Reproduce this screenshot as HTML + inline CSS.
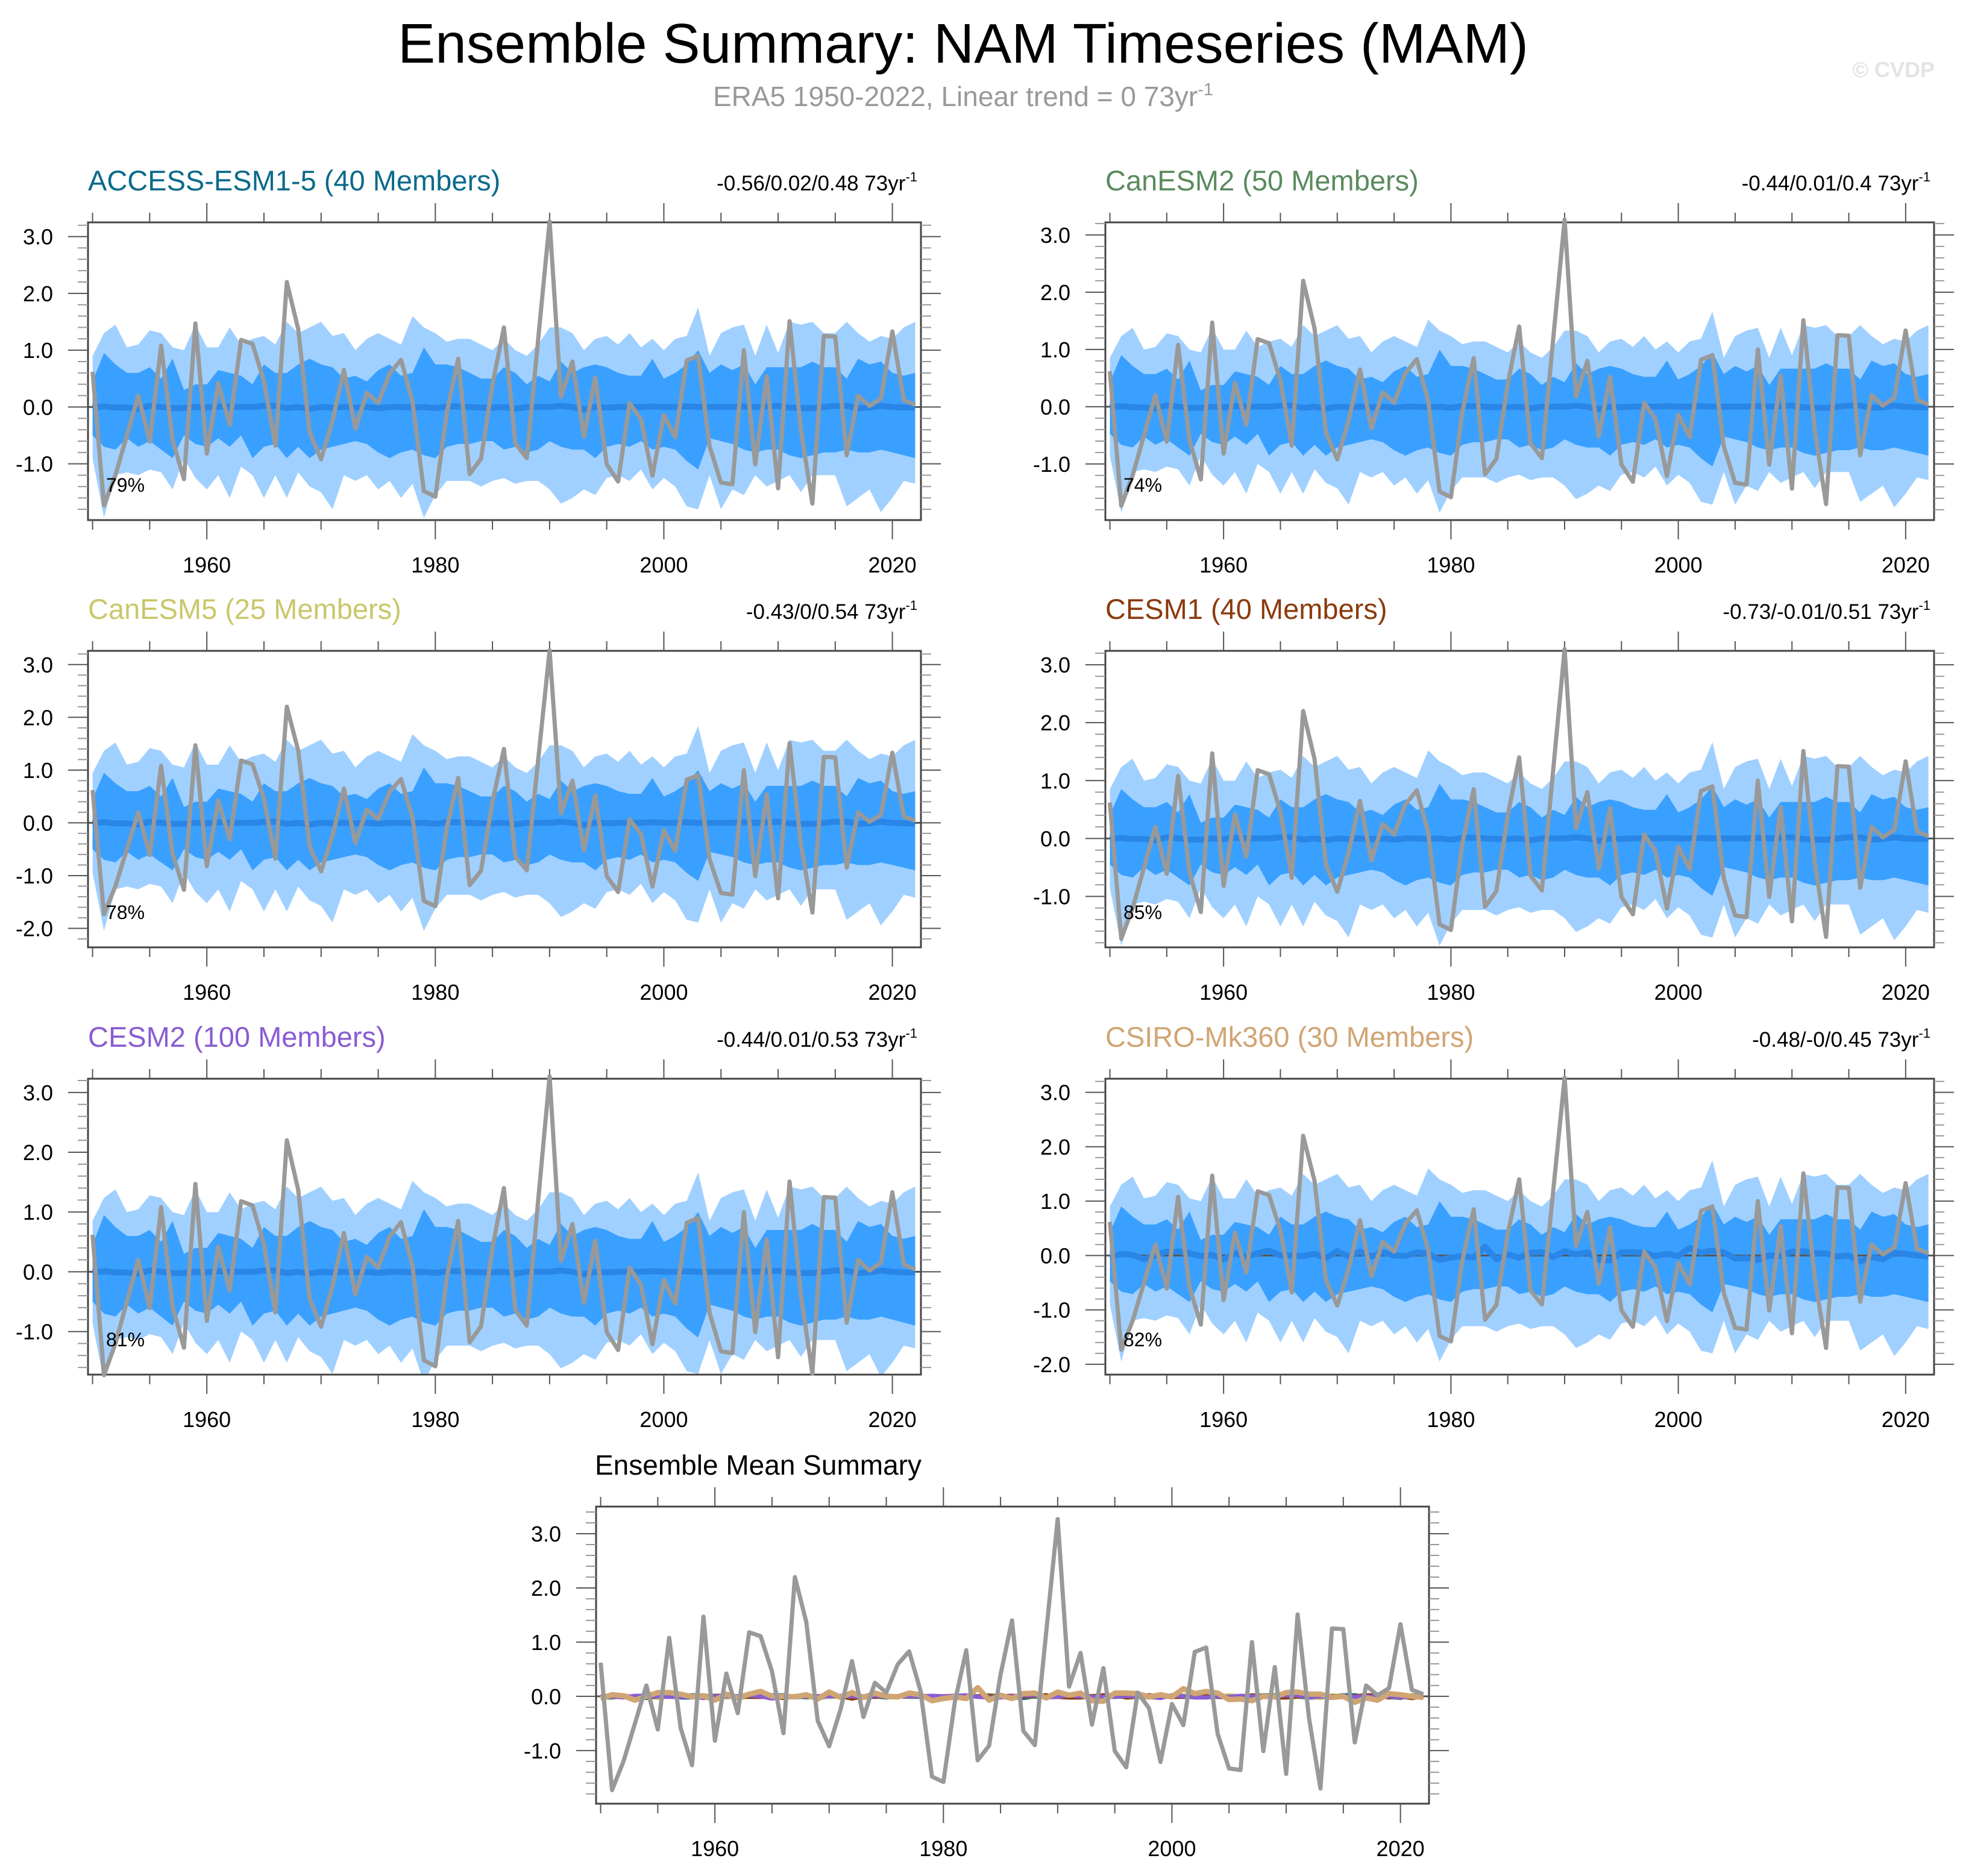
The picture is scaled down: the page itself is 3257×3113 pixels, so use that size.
<!DOCTYPE html>
<html><head><meta charset="utf-8">
<style>
html,body{margin:0;padding:0;background:#fff;}
svg{display:block;font-family:"Liberation Sans",Arial,sans-serif;}
</style></head>
<body>
<svg id="chart" width="3257" height="3113" viewBox="0 0 3257 3113" xmlns="http://www.w3.org/2000/svg">
<rect width="3257" height="3113" fill="#fff"/>
<text x="1598" y="104" font-size="93" text-anchor="middle" fill="#000">Ensemble Summary: NAM Timeseries (MAM)</text>
<text x="1598" y="176" font-size="46" text-anchor="middle" fill="#999">ERA5 1950-2022, Linear trend = 0 73yr<tspan dy="-18" font-size="29">-1</tspan></text>
<text x="3210" y="128" font-size="36" font-weight="bold" text-anchor="end" fill="#e4e4e4">© CVDP</text>
<g id="plots"></g>
</svg>
<script>
// ---- data ----
const years = [];
for (let y = 1950; y <= 2022; y++) years.push(y);
const obsNAM = [0.62,-1.73,-1.2,-0.5,0.2,-0.61,1.08,-0.58,-1.27,1.47,-0.82,0.42,-0.31,1.18,1.11,0.46,-0.68,2.2,1.37,-0.45,-0.92,-0.24,0.65,-0.38,0.25,0.07,0.59,0.83,0.1,-1.48,-1.58,-0.1,0.85,-1.18,-0.91,0.4,1.4,-0.64,-0.9,1.19,3.27,0.18,0.8,-0.52,0.52,-1.01,-1.31,0.07,-0.22,-1.21,-0.14,-0.53,0.82,0.9,-0.69,-1.33,-1.36,1.0,-1.01,0.54,-1.43,1.51,-0.4,-1.7,1.25,1.24,-0.85,0.2,0.02,0.15,1.33,0.12,0.04];
const outerHigh = [0.9,1.3,1.45,1.05,1.1,1.35,1.3,1.05,1.0,1.45,1.05,1.05,1.4,1.1,1.2,1.25,1.1,1.5,1.3,1.4,1.5,1.25,1.3,1.0,1.2,1.3,1.2,1.1,1.6,1.4,1.3,1.15,1.2,1.2,1.1,1.0,1.2,1.0,0.9,1.1,1.4,1.4,1.3,1.0,1.2,1.25,1.1,1.3,1.05,1.2,1.0,1.2,1.25,1.75,0.9,1.3,1.4,1.45,0.9,1.45,0.95,1.5,1.45,1.5,1.3,1.3,1.5,1.3,1.15,1.25,1.2,1.4,1.5];
const outerLow = [-0.9,-1.95,-1.2,-1.15,-1.2,-1.1,-1.15,-1.45,-0.9,-1.25,-1.45,-1.2,-1.6,-1.05,-1.2,-1.6,-1.2,-1.6,-1.15,-1.4,-1.5,-1.8,-1.2,-1.3,-1.2,-1.45,-1.3,-1.6,-1.35,-1.95,-1.55,-1.3,-1.3,-1.3,-1.4,-1.3,-1.25,-1.35,-1.3,-1.3,-1.45,-1.7,-1.6,-1.45,-1.55,-1.25,-1.2,-1.3,-1.1,-1.45,-1.25,-1.4,-1.75,-1.8,-1.2,-1.8,-1.45,-1.55,-1.2,-1.4,-1.3,-1.2,-1.5,-1.2,-1.2,-1.2,-1.75,-1.6,-1.45,-1.85,-1.6,-1.3,-1.35];
const innerHigh = [0.45,0.95,0.75,0.6,0.6,0.7,0.5,0.85,0.3,0.4,0.4,0.65,0.6,0.55,0.4,0.75,0.6,0.6,0.75,0.85,0.75,0.7,0.5,0.55,0.45,0.65,0.75,0.55,0.6,1.05,0.75,0.75,0.7,0.6,0.5,0.5,0.7,0.6,0.4,0.55,0.45,0.8,0.6,0.7,0.75,0.7,0.6,0.55,0.55,0.85,0.5,0.6,0.75,1.0,0.6,0.75,0.65,0.75,0.4,0.7,0.7,0.7,0.7,0.8,0.7,0.7,0.5,0.85,0.75,0.8,0.6,0.55,0.6];
const innerLow = [-0.5,-0.7,-0.75,-0.55,-0.7,-0.6,-0.75,-0.9,-0.5,-0.65,-0.7,-0.55,-0.7,-0.5,-0.9,-0.7,-0.65,-0.9,-0.7,-0.9,-0.75,-0.7,-0.65,-0.6,-0.65,-0.8,-0.9,-0.8,-0.75,-0.85,-0.9,-0.7,-0.65,-0.65,-0.6,-0.6,-0.75,-0.7,-0.8,-0.75,-0.6,-0.7,-0.75,-0.75,-0.9,-0.7,-0.65,-0.7,-0.6,-0.75,-0.7,-0.75,-0.95,-1.1,-0.55,-0.6,-0.65,-0.75,-0.8,-0.75,-0.75,-0.85,-0.9,-0.85,-0.8,-0.8,-0.75,-0.8,-0.8,-0.75,-0.8,-0.85,-0.9];
const meanSmall = [-0.01,0.01,-0.01,-0.01,-0.03,0.02,0.0,-0.02,-0.02,0.0,-0.01,0.01,0.0,0.0,0.0,0.02,0.02,-0.02,0.0,-0.03,0.0,-0.01,0.0,-0.01,0.0,-0.02,0.0,0.0,-0.01,0.0,-0.02,0.01,0.01,0.0,-0.01,-0.01,0.0,-0.03,0.0,0.0,0.0,0.02,0.0,-0.04,0.0,-0.01,0.0,0.0,0.0,0.01,0.0,0.0,0.01,0.0,0.0,0.0,0.0,0.01,0.0,0.01,0.02,-0.01,-0.02,-0.02,0.0,0.02,0.02,-0.02,-0.01,0.02,0.0,-0.01,-0.01];
const meanCSIRO = [-0.04,0.03,0.01,-0.07,0.0,0.07,0.07,0.04,-0.01,0.01,-0.07,0.04,-0.03,0.04,0.09,0.0,0.0,-0.01,0.03,-0.05,0.08,-0.02,0.07,-0.02,0.06,0.0,-0.01,0.06,0.03,-0.08,-0.04,-0.01,-0.04,0.16,-0.07,0.02,-0.04,0.05,0.06,-0.03,0.08,0.02,0.06,-0.08,-0.09,0.06,0.06,0.05,-0.01,0.03,-0.01,0.14,0.05,0.09,0.06,-0.06,-0.05,-0.08,0.0,-0.01,0.07,0.08,0.04,0.04,-0.02,0.0,-0.11,-0.03,-0.07,0.05,0.03,0.0,-0.02];
const modelNames = ["ACCESS-ESM1-5 (40 Members)","CanESM2 (50 Members)","CanESM5 (25 Members)","CESM1 (40 Members)","CESM2 (100 Members)","CSIRO-Mk360 (30 Members)"];
const modelStats = ["-0.56/0.02/0.48 73yr","-0.44/0.01/0.4 73yr","-0.43/0/0.54 73yr","-0.73/-0.01/0.51 73yr","-0.44/0.01/0.53 73yr","-0.48/-0/0.45 73yr"];
const modelPct = ["79%","74%","78%","85%","81%","82%"];
const outerScale = [1.0,0.95,1.05,0.95,0.95,1.0];
const innerScale = [1.0,0.95,1.0,0.9,1.0,0.95];
const yTickLabels = ["-2.0","-1.0","0.0","1.0","2.0","3.0"];
const xTickLabels = ["1960","1980","2000","2020"];

const colors = ["#0b6a8b","#5a8a5e","#c9c76a","#8b3a0c","#8a5cd3","#d0a574"];
const layout = [
 {x0:146,x1:1528,y0:369,y1:863,ymin:-1.99,ymax:3.25},
 {x0:1834,x1:3209,y0:369,y1:863,ymin:-1.98,ymax:3.22},
 {x0:146,x1:1528,y0:1080,y1:1572,ymin:-2.36,ymax:3.26},
 {x0:1834,x1:3209,y0:1080,y1:1572,ymin:-1.88,ymax:3.24},
 {x0:146,x1:1528,y0:1790,y1:2281,ymin:-1.72,ymax:3.23},
 {x0:1834,x1:3209,y0:1790,y1:2281,ymin:-2.19,ymax:3.25}
];
const NS = "http://www.w3.org/2000/svg";
const root = document.getElementById("plots");
function mk(tag, attrs, parent){ const e=document.createElementNS(NS,tag); for(const k in attrs) e.setAttribute(k,attrs[k]); (parent||root).appendChild(e); return e; }

function axes(L){
  const xs = yr => L.x0 + (yr-1949.6)/(2022.5-1949.6)*(L.x1-L.x0);
  const ys = v => L.y1 - (v-L.ymin)/(L.ymax-L.ymin)*(L.y1-L.y0);
  return {xs, ys};
}
function zeroLine(L,g,A){
  const zl = mk("line",{x1:L.x0,x2:L.x1,y1:A.ys(0),y2:A.ys(0),stroke:"#555","stroke-width":3},g);
  
  
}
function frame(L, g, A){
  const box = mk("rect",{x:L.x0,y:L.y0,width:L.x1-L.x0,height:L.y1-L.y0,fill:"none",stroke:"#444","stroke-width":3},g);
  
  
  for(let yr=1950; yr<=2020; yr+=5){
    const x=A.xs(yr), major=(yr%20===0);
    const len = major?32:16;
    mk("line",{x1:x,x2:x,y1:L.y1,y2:L.y1+len,stroke:"#555","stroke-width":2},g);
    mk("line",{x1:x,x2:x,y1:L.y0,y2:L.y0-len,stroke:"#555","stroke-width":2},g);
  }
  xTickLabels.forEach(t=>{
    const tx = mk("text",{x:A.xs(+t),y:L.y1+87,"font-size":36,"text-anchor":"middle",fill:"#000"},g);
    tx.textContent=t;
    
    
  });
  for(let k=Math.ceil(L.ymin*5); k<=Math.floor(L.ymax*5); k++){
    const v=k/5, y=A.ys(v), major=(k%5===0), len=major?33:17;
    mk("line",{x1:L.x0,x2:L.x0-len,y1:y,y2:y,stroke:major?"#555":"#999","stroke-width":2},g);
    mk("line",{x1:L.x1,x2:L.x1+len,y1:y,y2:y,stroke:major?"#555":"#999","stroke-width":2},g);
  }
  yTickLabels.forEach(t=>{
    const v=+t; if(v<L.ymin||v>L.ymax) return;
    const tx = mk("text",{x:L.x0-58,y:A.ys(v)+13,"font-size":36,"text-anchor":"end",fill:"#000"},g);
    tx.textContent=t;
    
    
  });
}
function linePath(A, vals){ return vals.map((v,i)=>(i?"L":"M")+A.xs(years[i]).toFixed(1)+","+A.ys(v).toFixed(1)).join(""); }
function bandPath(A, hi, lo){
  let d = hi.map((v,i)=>(i?"L":"M")+A.xs(years[i]).toFixed(1)+","+A.ys(v).toFixed(1)).join("");
  for(let i=lo.length-1;i>=0;i--) d+="L"+A.xs(years[i]).toFixed(1)+","+A.ys(lo[i]).toFixed(1);
  return d+"Z";
}

layout.forEach((L,p)=>{
  const g = mk("g",{});
  
  
  const A = axes(L);
  const clip = mk("clipPath",{id:"clip"+p},g);
  mk("rect",{x:L.x0,y:L.y0,width:L.x1-L.x0,height:L.y1-L.y0},clip);
  const inner = mk("g",{"clip-path":"url(#clip"+p+")"},g);
  const oh = outerHigh.map(v=>v*outerScale[p]), ol = outerLow.map(v=>v*outerScale[p]);
  const ih = innerHigh.map(v=>v*innerScale[p]), il = innerLow.map(v=>v*innerScale[p]);
  const b1 = mk("path",{d:bandPath(A,oh,ol),fill:"#a0d0ff"},inner);
  
  
  const b2 = mk("path",{d:bandPath(A,ih,il),fill:"#3aa0ff"},inner);
  
  
  zeroLine(L,inner,A);
  const mean = p===5?meanCSIRO:meanSmall;
  const ml = mk("path",{d:linePath(A,mean),fill:"none",stroke:"#2a86e6","stroke-width":10,"stroke-linejoin":"round"},inner);
  
  
  frame(L,g,A);
  const ob = mk("path",{d:linePath(A,obsNAM),fill:"none",stroke:"#999","stroke-width":7,"stroke-linejoin":"round"},g);
  
  
  const t = mk("text",{x:L.x0,y:L.y0-53,"font-size":47,fill:colors[p]},g);
  t.textContent = modelNames[p];
  
  
  const s = mk("text",{x:L.x1-6,y:L.y0-53,"font-size":35,"text-anchor":"end",fill:"#000"},g);
  s.textContent = modelStats[p];
  const sup = mk("tspan",{dy:-15,"font-size":22},s); sup.textContent="-1";
  
  
  const pc = mk("text",{x:L.x0+30,y:L.y1-47,"font-size":32,fill:"#000"},g);
  pc.textContent = modelPct[p];
  
  
});

// ensemble mean summary panel
(function(){
  const L = {x0:989,x1:2371,y0:2500,y1:2993,ymin:-1.98,ymax:3.5};
  const g = mk("g",{});
  
  
  const A = axes(L);
  zeroLine(L,g,A);
  frame(L,g,A);
  for(let p=0;p<6;p++){
    const mean = p===5?meanCSIRO:meanSmall.map((v,i)=>meanSmall[(i+p*7)%73]);
    const ln = mk("path",{d:linePath(A,mean),fill:"none",stroke:colors[p],"stroke-width":p===5?9:7,"stroke-linejoin":"round"},g);
    
    
  }
  const ob = mk("path",{d:linePath(A,obsNAM),fill:"none",stroke:"#999","stroke-width":7,"stroke-linejoin":"round"},g);
  
  
  const t = mk("text",{x:987,y:2447,"font-size":46,fill:"#000"},g);
  t.textContent="Ensemble Mean Summary";
  
  
})();
</script>
</body></html>
